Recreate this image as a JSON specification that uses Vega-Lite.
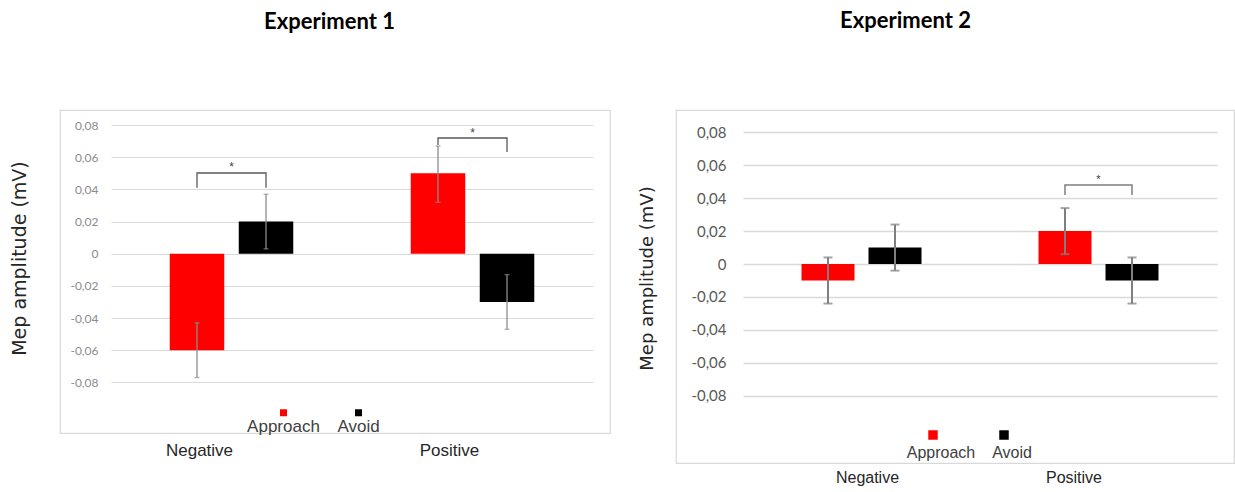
{
  "$schema": "https://vega.github.io/schema/vega-lite/v6.json",
  "background": "white",
  "padding": {"left": 10, "top": 9, "right": 0, "bottom": 0},
  "spacing": 27,
  "datasets": {
    "bars": [
      {"exp": 1, "cat": "Negative", "group": "Approach", "value": -0.06, "lo": -0.077, "hi": -0.043},
      {"exp": 1, "cat": "Negative", "group": "Avoid", "value": 0.02, "lo": 0.003, "hi": 0.037},
      {"exp": 1, "cat": "Positive", "group": "Approach", "value": 0.05, "lo": 0.032, "hi": 0.067},
      {"exp": 1, "cat": "Positive", "group": "Avoid", "value": -0.03, "lo": -0.047, "hi": -0.013},
      {"exp": 2, "cat": "Negative", "group": "Approach", "value": -0.01, "lo": -0.024, "hi": 0.004},
      {"exp": 2, "cat": "Negative", "group": "Avoid", "value": 0.01, "lo": -0.004, "hi": 0.024},
      {"exp": 2, "cat": "Positive", "group": "Approach", "value": 0.02, "lo": 0.006, "hi": 0.034},
      {"exp": 2, "cat": "Positive", "group": "Avoid", "value": -0.01, "lo": -0.024, "hi": 0.004}
    ],
    "brackets": [
      {"exp": 1, "id": "n1", "cat": "Negative", "group": "Approach", "step": 1, "y": 0.041},
      {"exp": 1, "id": "n1", "cat": "Negative", "group": "Approach", "step": 2, "y": 0.0502},
      {"exp": 1, "id": "n1", "cat": "Negative", "group": "Avoid", "step": 3, "y": 0.0502},
      {"exp": 1, "id": "n1", "cat": "Negative", "group": "Avoid", "step": 4, "y": 0.041},
      {"exp": 1, "id": "p1", "cat": "Positive", "group": "Approach", "step": 1, "y": 0.0676},
      {"exp": 1, "id": "p1", "cat": "Positive", "group": "Approach", "step": 2, "y": 0.072},
      {"exp": 1, "id": "p1", "cat": "Positive", "group": "Avoid", "step": 3, "y": 0.072},
      {"exp": 1, "id": "p1", "cat": "Positive", "group": "Avoid", "step": 4, "y": 0.0632},
      {"exp": 2, "id": "p2", "cat": "Positive", "group": "Approach", "step": 1, "y": 0.0419},
      {"exp": 2, "id": "p2", "cat": "Positive", "group": "Approach", "step": 2, "y": 0.048},
      {"exp": 2, "id": "p2", "cat": "Positive", "group": "Avoid", "step": 3, "y": 0.048},
      {"exp": 2, "id": "p2", "cat": "Positive", "group": "Avoid", "step": 4, "y": 0.0419}
    ],
    "stars": [
      {"exp": 1, "cat": "Negative", "y": 0.054, "label": "*"},
      {"exp": 1, "cat": "Positive", "y": 0.075, "label": "*"},
      {"exp": 2, "cat": "Positive", "y": 0.051, "label": "*"}
    ]
  },
  "hconcat": [
    {
      "width": 550,
      "height": 323,
      "title": {"text": "Experiment 1", "font": "Lato", "fontSize": 22, "fontWeight": "bold", "color": "#000000", "anchor": "middle", "frame": "group", "offset": 76, "dx": -5.5},
      "layer": [
        {
          "data": {"name": "bars"},
          "transform": [{"filter": "datum.exp == 1"}],
          "mark": {"type": "bar"},
          "encoding": {
            "x": {"field": "cat", "type": "nominal", "sort": ["Negative", "Positive"],
              "scale": {"range": [51, 533], "paddingInner": 0, "paddingOuter": 0},
              "axis": {"title": null, "domain": false, "ticks": false, "grid": false, "labelAngle": 0, "labelPadding": 9,
                "labelFont": "Liberation Sans", "labelFontSize": 17, "labelColor": "#262626",
                "labelOffset": {"condition": {"test": "datum.value === 'Negative'", "value": -32}, "value": -23}}},
            "xOffset": {"field": "group", "type": "nominal", "sort": ["Approach", "Avoid"], "scale": {"paddingInner": 0.21, "paddingOuter": 0.851}},
            "y": {"field": "value", "type": "quantitative",
              "scale": {"domain": [-0.1115, 0.0894], "nice": false, "zero": false},
              "axis": {"values": [-0.08, -0.06, -0.04, -0.02, 0, 0.02, 0.04, 0.06, 0.08],
                "labelExpr": "datum.value == 0 ? '0' : replace(replace(format(datum.value, '.2f'), '.', ','), '\u2212', '-')",
                "grid": true, "gridColor": "#d9d9d9", "gridWidth": 1.2, "domain": false, "ticks": false, "tickSize": 0,
                "offset": -38, "labelPadding": 0, "labelFont": "Lato", "labelFontSize": 12, "labelColor": "#8c8c8c",
                "title": "Mep amplitude (mV)", "titleFont": "DejaVu Sans", "titleFontSize": 19, "titleFontWeight": "normal",
                "titleColor": "#262626", "titlePadding": 40, "titleY": 148}},
            "y2": {"datum": 0},
            "color": {"field": "group", "type": "nominal",
              "scale": {"domain": ["Approach", "Avoid"], "range": ["#ff0000", "#000000"]},
              "legend": {"orient": "none", "legendX": 215, "legendY": 294, "direction": "horizontal", "title": null,
                "symbolType": "square", "symbolSize": 49, "symbolStrokeWidth": 0, "padding": 0,
                "labelFont": "Liberation Sans", "labelFontSize": 17, "labelColor": "#404040",
                "labelAlign": "center", "labelOffset": -8.5, "columnPadding": 17,
                "encode": {"labels": {"update": {"dy": {"value": 14}}}}}}
          }
        },
        {
          "data": {"name": "bars"},
          "transform": [{"filter": "datum.exp == 1"}],
          "mark": {"type": "rule", "color": "#8c8c8c", "strokeWidth": 1.3},
          "encoding": {
            "x": {"field": "cat", "type": "nominal"},
            "xOffset": {"field": "group", "type": "nominal"},
            "y": {"field": "lo", "type": "quantitative"},
            "y2": {"field": "hi"}
          }
        },
        {
          "data": {"name": "bars"},
          "transform": [{"filter": "datum.exp == 1"}],
          "mark": {"type": "tick", "color": "#8c8c8c", "thickness": 1.3, "size": 5, "orient": "horizontal"},
          "encoding": {
            "x": {"field": "cat", "type": "nominal"},
            "xOffset": {"field": "group", "type": "nominal"},
            "y": {"field": "lo", "type": "quantitative"}
          }
        },
        {
          "data": {"name": "bars"},
          "transform": [{"filter": "datum.exp == 1"}],
          "mark": {"type": "tick", "color": "#8c8c8c", "thickness": 1.3, "size": 5, "orient": "horizontal"},
          "encoding": {
            "x": {"field": "cat", "type": "nominal"},
            "xOffset": {"field": "group", "type": "nominal"},
            "y": {"field": "hi", "type": "quantitative"}
          }
        },
        {
          "data": {"name": "brackets"},
          "transform": [{"filter": "datum.exp == 1"}],
          "mark": {"type": "line", "color": "#595959", "strokeWidth": 1.3},
          "encoding": {
            "x": {"field": "cat", "type": "nominal"},
            "xOffset": {"field": "group", "type": "nominal"},
            "y": {"field": "y", "type": "quantitative"},
            "order": {"field": "step"},
            "detail": {"field": "id"}
          }
        },
        {
          "data": {"name": "stars"},
          "transform": [{"filter": "datum.exp == 1"}],
          "mark": {"type": "text", "font": "Liberation Sans", "fontSize": 12, "color": "#404040", "baseline": "middle"},
          "encoding": {
            "x": {"field": "cat", "type": "nominal"},
            "y": {"field": "y", "type": "quantitative"},
            "text": {"field": "label"}
          }
        }
      ]
    },
    {
      "width": 558,
      "height": 353,
      "title": {"text": "Experiment 2", "font": "Lato", "fontSize": 22, "fontWeight": "bold", "color": "#000000", "anchor": "middle", "frame": "group", "offset": 77, "dx": -49.5},
      "layer": [
        {
          "data": {"name": "bars"},
          "transform": [{"filter": "datum.exp == 2"}],
          "mark": {"type": "bar"},
          "encoding": {
            "x": {"field": "cat", "type": "nominal", "sort": ["Negative", "Positive"],
              "scale": {"range": [67, 541], "paddingInner": 0, "paddingOuter": 0},
              "axis": {"title": null, "domain": false, "ticks": false, "grid": false, "labelAngle": 0, "labelPadding": 6,
                "labelFont": "Liberation Sans", "labelFontSize": 16, "labelColor": "#262626",
                "labelOffset": {"condition": {"test": "datum.value === 'Negative'", "value": 6}, "value": -24.5}}},
            "xOffset": {"field": "group", "type": "nominal", "sort": ["Approach", "Avoid"], "scale": {"paddingInner": 0.209, "paddingOuter": 0.873}},
            "y": {"field": "value", "type": "quantitative",
              "scale": {"domain": [-0.1209, 0.0936], "nice": false, "zero": false},
              "axis": {"values": [-0.08, -0.06, -0.04, -0.02, 0, 0.02, 0.04, 0.06, 0.08],
                "labelExpr": "datum.value == 0 ? '0' : replace(replace(format(datum.value, '.2f'), '.', ','), '\u2212', '-')",
                "grid": true, "gridColor": "#d9d9d9", "gridWidth": 1.5, "domain": false, "ticks": false, "tickSize": 0,
                "offset": -50, "labelPadding": 0, "labelFont": "Lato", "labelFontSize": 15, "labelColor": "#595959",
                "title": "Mep amplitude (mV)", "titleFont": "DejaVu Sans", "titleFontSize": 18, "titleFontWeight": "normal",
                "titleColor": "#262626", "titlePadding": 34, "titleY": 168}},
            "y2": {"datum": 0},
            "color": {"field": "group", "type": "nominal",
              "scale": {"domain": ["Approach", "Avoid"], "range": ["#ff0000", "#000000"]},
              "legend": {"orient": "none", "legendX": 249, "legendY": 317, "direction": "horizontal", "title": null,
                "symbolType": "square", "symbolSize": 90, "symbolStrokeWidth": 0, "padding": 0,
                "labelFont": "Liberation Sans", "labelFontSize": 16, "labelColor": "#404040",
                "labelAlign": "center", "labelOffset": 0, "columnPadding": 16,
                "encode": {"labels": {"update": {"dy": {"value": 18}}}}}}
          }
        },
        {
          "data": {"name": "bars"},
          "transform": [{"filter": "datum.exp == 2"}],
          "mark": {"type": "rule", "color": "#7f7f7f", "strokeWidth": 2},
          "encoding": {
            "x": {"field": "cat", "type": "nominal"},
            "xOffset": {"field": "group", "type": "nominal"},
            "y": {"field": "lo", "type": "quantitative"},
            "y2": {"field": "hi"}
          }
        },
        {
          "data": {"name": "bars"},
          "transform": [{"filter": "datum.exp == 2"}],
          "mark": {"type": "tick", "color": "#7f7f7f", "thickness": 2, "size": 9, "orient": "horizontal"},
          "encoding": {
            "x": {"field": "cat", "type": "nominal"},
            "xOffset": {"field": "group", "type": "nominal"},
            "y": {"field": "lo", "type": "quantitative"}
          }
        },
        {
          "data": {"name": "bars"},
          "transform": [{"filter": "datum.exp == 2"}],
          "mark": {"type": "tick", "color": "#7f7f7f", "thickness": 2, "size": 9, "orient": "horizontal"},
          "encoding": {
            "x": {"field": "cat", "type": "nominal"},
            "xOffset": {"field": "group", "type": "nominal"},
            "y": {"field": "hi", "type": "quantitative"}
          }
        },
        {
          "data": {"name": "brackets"},
          "transform": [{"filter": "datum.exp == 2"}],
          "mark": {"type": "line", "color": "#7f7f7f", "strokeWidth": 1.5},
          "encoding": {
            "x": {"field": "cat", "type": "nominal"},
            "xOffset": {"field": "group", "type": "nominal"},
            "y": {"field": "y", "type": "quantitative"},
            "order": {"field": "step"},
            "detail": {"field": "id"}
          }
        },
        {
          "data": {"name": "stars"},
          "transform": [{"filter": "datum.exp == 2"}],
          "mark": {"type": "text", "font": "Liberation Sans", "fontSize": 11, "color": "#404040", "baseline": "middle"},
          "encoding": {
            "x": {"field": "cat", "type": "nominal"},
            "y": {"field": "y", "type": "quantitative"},
            "text": {"field": "label"}
          }
        }
      ]
    }
  ],
  "resolve": {
    "scale": {"color": "independent", "x": "independent", "y": "independent", "xOffset": "independent"},
    "legend": {"color": "independent"}
  },
  "config": {
    "view": {"stroke": "#d9d9d9", "strokeWidth": 1.2}
  }
}
